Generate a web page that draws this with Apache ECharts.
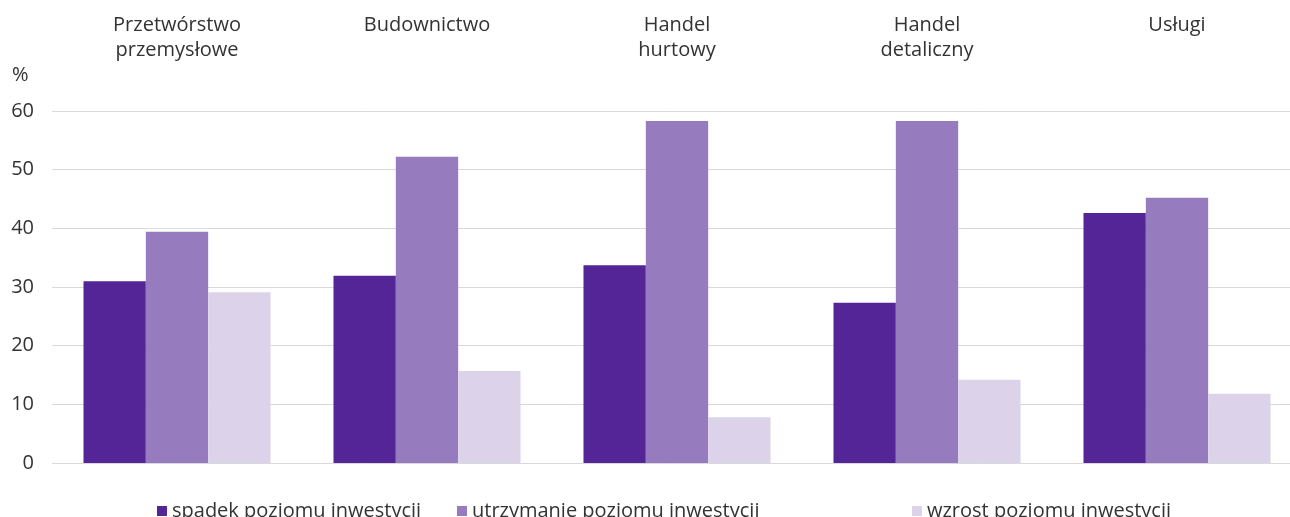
<!DOCTYPE html>
<html><head><meta charset="utf-8">
<script src="https://cdn.jsdelivr.net/npm/echarts@6/dist/echarts.min.js"></script>
<style>html,body{margin:0;padding:0;background:#fff}#c{width:1290px;height:517px}</style>
</head><body><div id="c"></div>
<script>
const categories = ['Przetwórstwo\nprzemysłowe', 'Budownictwo', 'Handel\nhurtowy', 'Handel\ndetaliczny', 'Usługi'];
const seriesNames = ['spadek poziomu inwestycji', 'utrzymanie poziomu inwestycji', 'wzrost poziomu inwestycji'];
const spadek = [31.0, 31.9, 33.7, 27.3, 42.6];
const utrzymanie = [39.4, 52.2, 58.3, 58.3, 45.2];
const wzrost = [29.1, 15.7, 7.8, 14.2, 11.8];
const colors = ['#532596', '#967CBF', '#DCD3EA'];

const font = 'Open Sans';
const chart = echarts.init(document.getElementById('c'));
const legendLefts = [152, 452, 907];
chart.setOption({
  animation: false,
  textStyle: { fontFamily: font },
  grid: { left: 52, width: 1250, top: 111, height: 352, outerBoundsMode: 'none', containLabel: false },
  legend: seriesNames.map((n, i) => ({
    data: [n], left: legendLefts[i], top: 496, itemWidth: 10, itemHeight: 10, itemGap: 0,
    icon: 'rect', textStyle: { fontSize: 20, color: '#333', fontFamily: font }
  })),
  xAxis: {
    type: 'category', position: 'top', data: categories,
    axisLine: { show: false }, axisTick: { show: false },
    axisLabel: { margin: 98, verticalAlign: 'top', fontSize: 20, lineHeight: 25, color: '#333', fontFamily: font }
  },
  yAxis: {
    type: 'value', min: 0, max: 60, interval: 10,
    axisLabel: { margin: 18, fontSize: 20, color: '#333', fontFamily: font },
    splitLine: { lineStyle: { color: '#D9D9D9', width: 1 } },
    axisLine: { show: false }, axisTick: { show: false }
  },
  graphic: [{ type: 'text', left: 12, top: 65, style: { text: '%', fontSize: 20, fill: '#333', fontFamily: font } }],
  series: [spadek, utrzymanie, wzrost].map((d, i) => ({
    type: 'bar', name: seriesNames[i], data: d, barGap: '0%', barCategoryGap: '25.2%',
    itemStyle: { color: colors[i] }
  }))
});
</script></body></html>
